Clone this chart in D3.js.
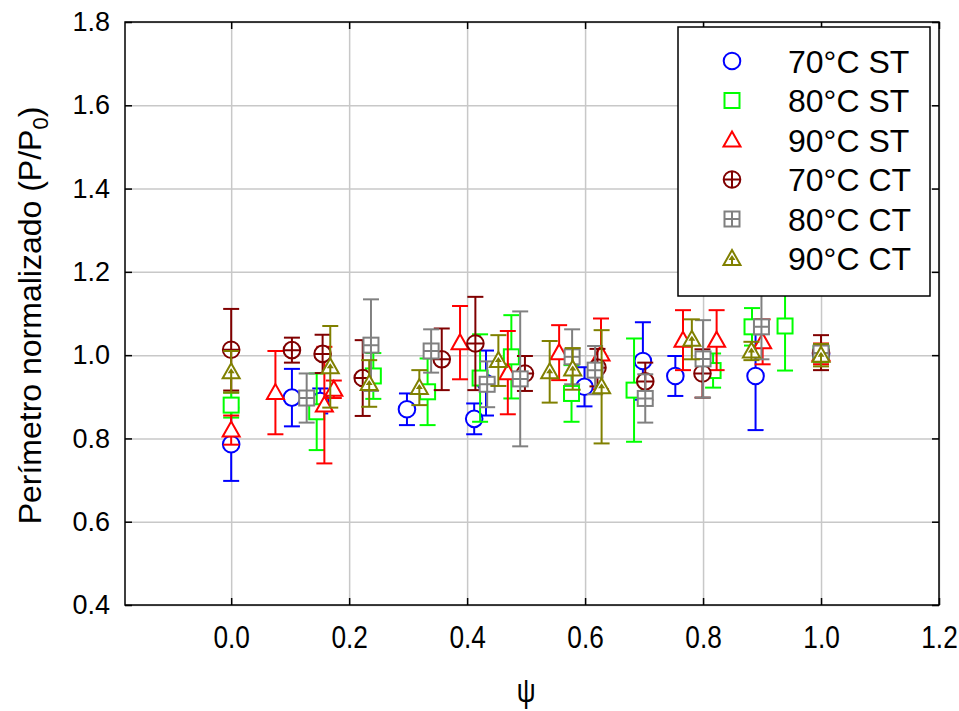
<!DOCTYPE html>
<html>
<head>
<meta charset="utf-8">
<script src="https://cdn.jsdelivr.net/npm/d3@7"></script>
<style>
  body { margin: 0; background: #fff; }
  svg { display: block; }
  text { font-family: "Liberation Sans", Arial, sans-serif; fill: #000; }
</style>
</head>
<body>
<svg id="chart"></svg>
<script>
// series names
const seriesNames = ["70°C ST", "80°C ST", "90°C ST", "70°C CT", "80°C CT", "90°C CT"];

// psi (x), normalized perimeter (y) and error (+/-) for each series
const psi70ST = [0, 0.103, 0.151, 0.298, 0.412, 0.432, 0.599, 0.698, 0.753, 0.889, 1.0];
const val70ST = [0.786, 0.898, 0.890, 0.870, 0.847, 0.933, 0.924, 0.986, 0.950, 0.950, 1.003];
const err70ST = [0.088, 0.069, 0.030, 0.038, 0.037, 0.078, 0.047, 0.093, 0.048, 0.130, 0.020];

const psi80ST = [0, 0.145, 0.241, 0.333, 0.422, 0.475, 0.577, 0.683, 0.817, 0.883, 0.939, 1.0];
const val80ST = [0.880, 0.864, 0.950, 0.912, 0.945, 0.996, 0.908, 0.916, 0.963, 1.068, 1.070, 1.003];
const err80ST = [0.030, 0.092, 0.055, 0.080, 0.105, 0.100, 0.068, 0.124, 0.041, 0.045, 0.107, 0.020];

const psi90ST = [0, 0.075, 0.158, 0.174, 0.388, 0.469, 0.556, 0.627, 0.766, 0.823, 0.901, 1.0];
const val90ST = [0.820, 0.910, 0.880, 0.918, 1.030, 0.958, 1.006, 1.003, 1.036, 1.036, 1.032, 1.003];
const err90ST = [0.035, 0.100, 0.140, 0.021, 0.088, 0.100, 0.066, 0.085, 0.072, 0.072, 0.054, 0.025];

const psi70CT = [0, 0.103, 0.155, 0.223, 0.357, 0.414, 0.498, 0.621, 0.702, 0.799, 1.0];
const val70CT = [1.013, 1.012, 1.003, 0.945, 0.990, 1.028, 0.956, 0.970, 0.937, 0.956, 1.006];
const err70CT = [0.098, 0.030, 0.046, 0.091, 0.074, 0.112, 0.042, 0.045, 0.045, 0.058, 0.042];

const psi80CT = [0.128, 0.237, 0.339, 0.434, 0.490, 0.578, 0.617, 0.702, 0.800, 0.899, 1.0];
const val80CT = [0.897, 1.024, 1.010, 0.930, 0.943, 0.996, 0.964, 0.896, 0.991, 1.068, 1.005];
const err80CT = [0.059, 0.110, 0.052, 0.055, 0.162, 0.066, 0.058, 0.058, 0.093, 0.078, 0.015];

const psi90CT = [0, 0.168, 0.234, 0.319, 0.453, 0.540, 0.579, 0.628, 0.781, 0.882, 1.0];
const val90CT = [0.960, 0.972, 0.932, 0.922, 0.987, 0.960, 0.967, 0.924, 1.038, 1.010, 1.000];
const err90CT = [0.050, 0.098, 0.056, 0.042, 0.061, 0.074, 0.050, 0.136, 0.048, 0.022, 0.027];

const xTicks = [0, 0.2, 0.4, 0.6, 0.8, 1.0, 1.2];
const yTicks = [0.4, 0.6, 0.8, 1.0, 1.2, 1.4, 1.6, 1.8];

const series = [
  { name: seriesNames[0], color: "#0000ff", sym: "circle",      x: psi70ST, y: val70ST, e: err70ST },
  { name: seriesNames[1], color: "#00ff00", sym: "square",      x: psi80ST, y: val80ST, e: err80ST },
  { name: seriesNames[2], color: "#ff0000", sym: "triangle",    x: psi90ST, y: val90ST, e: err90ST },
  { name: seriesNames[3], color: "#800000", sym: "circlePlus",  x: psi70CT, y: val70CT, e: err70CT },
  { name: seriesNames[4], color: "#808080", sym: "squarePlus",  x: psi80CT, y: val80CT, e: err80CT },
  { name: seriesNames[5], color: "#808000", sym: "triangleDot", x: psi90CT, y: val90CT, e: err90CT }
];

var svgWidth = 959, svgHeight = 711;
var margin = { top: 22, right: 20, bottom: 106, left: 125 };
var width = 939 - margin.left;
var height = 605 - margin.top;

var svg = d3.select("#chart")
  .attr("width", svgWidth)
  .attr("height", svgHeight);

var g = svg.append("g")
  .attr("transform", "translate(" + margin.left + "," + margin.top + ")");

var x = d3.scaleLinear().domain([-0.18, 1.2]).range([0, width]);
var y = d3.scaleLinear().domain([0.4, 1.8]).range([height, 0]);

// grid
g.append("g")
  .attr("transform", "translate(0," + height + ")")
  .call(d3.axisBottom(x).tickValues(xTicks).tickSize(-height).tickFormat(""))
  .call(s => s.select(".domain").remove())
  .selectAll("line").attr("stroke", "#c8c8c8").attr("stroke-width", 1.5);
g.append("g")
  .call(d3.axisLeft(y).tickValues(yTicks).tickSize(-width).tickFormat(""))
  .call(s => s.select(".domain").remove())
  .selectAll("line").attr("stroke", "#c8c8c8").attr("stroke-width", 1.5);

// axes with inward ticks
var xAxis = g.append("g")
  .attr("transform", "translate(0," + height + ")")
  .call(d3.axisBottom(x).tickValues(xTicks).tickSize(-7).tickPadding(20).tickFormat(d3.format(".1f")));
xAxis.select(".domain").remove();
xAxis.selectAll("text")
  .attr("font-size", 32)
  .attr("font-family", "Liberation Sans, Arial, sans-serif")
  .attr("transform", "scale(0.82,1)");

var yAxis = g.append("g")
  .call(d3.axisLeft(y).tickValues(yTicks).tickSize(-7).tickPadding(15).tickFormat(d3.format(".1f")));
yAxis.select(".domain").remove();
yAxis.selectAll("text").attr("font-size", 27).attr("font-family", "Liberation Sans, Arial, sans-serif");

g.append("g")
  .call(d3.axisTop(x).tickValues(xTicks).tickSize(-7).tickFormat(""))
  .select(".domain").remove();
g.append("g")
  .attr("transform", "translate(" + width + ",0)")
  .call(d3.axisRight(y).tickValues(yTicks).tickSize(-7).tickFormat(""))
  .select(".domain").remove();
g.selectAll(".tick line").filter(function () { return d3.select(this).attr("stroke") !== "#c8c8c8"; })
  .attr("stroke", "#000").attr("stroke-width", 1.5);

g.append("rect")
  .attr("width", width).attr("height", height)
  .attr("fill", "none").attr("stroke", "#000").attr("stroke-width", 1.5);

// axis titles
svg.append("text")
  .attr("transform", "translate(41," + (margin.top + height / 2 + 2) + ") rotate(-90)")
  .attr("text-anchor", "middle")
  .attr("font-size", 32)
  .text("Perímetro normalizado (P/P")
  .append("tspan").attr("font-size", 22).attr("dy", 7).text("0")
  .select(function () { return this.parentNode; })
  .append("tspan").attr("dy", -7).text(")");

svg.append("text")
  .attr("transform", "translate(" + (margin.left + x(0.5)) + ",702) scale(0.8,1)")
  .attr("text-anchor", "middle")
  .attr("font-size", 33)
  .text("ψ");

function drawSymbol(sel, type, color) {
  sel.each(function () {
    var s = d3.select(this);
    var sw = 2;
    if (type === "circle" || type === "circlePlus") {
      s.append("circle").attr("r", 8.3).attr("fill", "#fff").attr("stroke", color).attr("stroke-width", sw);
      if (type === "circlePlus")
        s.append("path").attr("d", "M-8.3,0H8.3M0,-8.3V8.3").attr("stroke", color).attr("stroke-width", sw);
    } else if (type === "square" || type === "squarePlus") {
      s.append("rect").attr("x", -7.5).attr("y", -7.5).attr("width", 15).attr("height", 15)
        .attr("fill", "#fff").attr("stroke", color).attr("stroke-width", sw);
      if (type === "squarePlus")
        s.append("path").attr("d", "M-7.5,0H7.5M0,-7.5V7.5").attr("stroke", color).attr("stroke-width", sw);
    } else {
      s.append("path").attr("d", "M0,-8.5L8.5,6.5H-8.5Z")
        .attr("fill", "#fff").attr("stroke", color).attr("stroke-width", sw).attr("stroke-linejoin", "miter");
      if (type === "triangleDot") {
        s.append("path").attr("d", "M0,0V6.5").attr("stroke", color).attr("stroke-width", sw);
        s.append("path").attr("d", "M0,-3.5L3.5,1.5H-3.5Z").attr("fill", color);
      }
    }
  });
}

// error bars and symbols, series by series
series.forEach(function (sr) {
  var pts = sr.x.map(function (d, i) { return { x: d, y: sr.y[i], e: sr.e[i] }; });
  var sg = g.append("g");
  var bars = sg.selectAll(".bar").data(pts).enter().append("g")
    .attr("stroke", sr.color).attr("stroke-width", 2);
  bars.append("line")
    .attr("x1", d => x(d.x)).attr("x2", d => x(d.x))
    .attr("y1", d => y(d.y - d.e)).attr("y2", d => y(d.y + d.e));
  bars.append("line")
    .attr("x1", d => x(d.x) - 8).attr("x2", d => x(d.x) + 8)
    .attr("y1", d => y(d.y + d.e)).attr("y2", d => y(d.y + d.e));
  bars.append("line")
    .attr("x1", d => x(d.x) - 8).attr("x2", d => x(d.x) + 8)
    .attr("y1", d => y(d.y - d.e)).attr("y2", d => y(d.y - d.e));
  sg.selectAll(".pt").data(pts).enter().append("g")
    .attr("transform", d => "translate(" + x(d.x) + "," + y(d.y) + ")")
    .call(drawSymbol, sr.sym, sr.color);
});

// legend
var lg = svg.append("g").attr("transform", "translate(678,27)");
lg.append("rect").attr("width", 252).attr("height", 269)
  .attr("fill", "#fff").attr("stroke", "#000").attr("stroke-width", 1.5);
var rows = lg.selectAll(".row").data(series).enter().append("g")
  .attr("transform", (d, i) => "translate(0," + (34 + i * 39.5) + ")");
rows.each(function (d) {
  d3.select(this).append("g").attr("transform", "translate(54,0)").call(drawSymbol, d.sym, d.color);
});
rows.append("text").attr("x", 110).attr("dy", "0.36em").attr("font-size", 32).text(d => d.name);
</script>
</body>
</html>
